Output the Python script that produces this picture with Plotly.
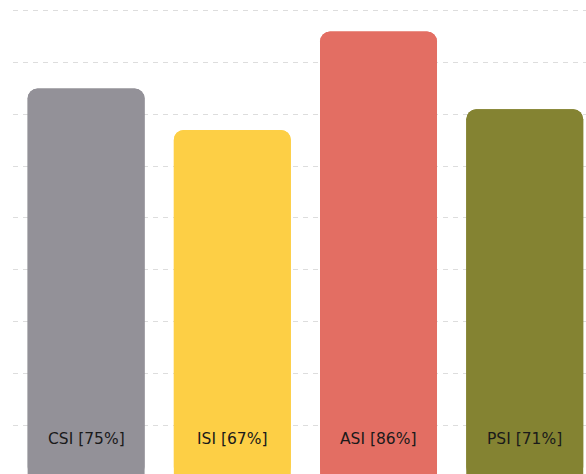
import plotly.graph_objects as go

categories = ["CSI", "ISI", "ASI", "PSI"]
values = [75, 67, 86, 71]
colors = ["#939198", "#FDCF45", "#E36E63", "#848332"]

positions = list(range(len(categories)))
labels = [f"{c} [{v}%]" for c, v in zip(categories, values)]

fig = go.Figure()
# upward bar (rounded top)
fig.add_trace(go.Bar(
    x=positions, y=values, marker=dict(color=colors, line=dict(width=0)),
    width=0.8, hoverinfo="skip", showlegend=False,
))
# same bar drawn downward from the value to zero (rounded bottom)
fig.add_trace(go.Bar(
    x=positions, y=[-v for v in values], base=values,
    marker=dict(color=colors, line=dict(width=0)),
    width=0.8, hoverinfo="skip", showlegend=False,
))

for p, lab in zip(positions, labels):
    fig.add_annotation(
        x=p, y=0, xref="x", yref="paper", text=lab, showarrow=False,
        yanchor="middle", yshift=35,
        font=dict(family="DejaVu Sans", size=15.5, color="#1a1a1a"),
    )

fig.update_layout(
    width=586, height=474,
    margin=dict(l=12.65, r=0, t=0, b=0),
    paper_bgcolor="white", plot_bgcolor="white",
    barmode="overlay", barcornerradius=10,
    hovermode=False,
    xaxis=dict(range=[-0.5, 3.419], showgrid=False, zeroline=False,
               showticklabels=False, ticks="", showline=False),
    yaxis=dict(range=[0.58, 92.08], dtick=10, tick0=0, showgrid=True,
               gridcolor="#dddddd", gridwidth=1, griddash="5px,5px",
               zeroline=False, showticklabels=False, ticks="", showline=False),
)

fig.write_html(
    "out.html",
    config={"displayModeBar": False, "staticPlot": True},
    post_script="document.body.style.margin='0';document.body.style.overflow='hidden';",
)
